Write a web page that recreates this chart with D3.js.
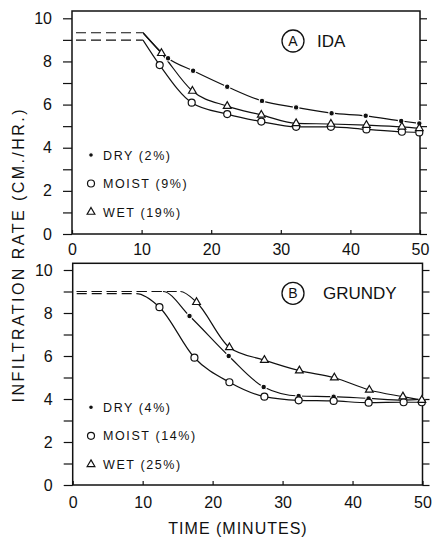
<!DOCTYPE html>
<html>
<head>
<meta charset="utf-8">
<script src="https://cdn.jsdelivr.net/npm/d3@7"></script>
<style>
  body { margin: 0; background: #fff; }
  svg text { font-family: "Liberation Sans", Arial, sans-serif; fill: #111; }
</style>
</head>
<body>
<div id="chart"></div>
<script>
const width = 434
const height = 537

// time (minutes) and infiltration rate (cm/hr)
const xTicks = [0, 10, 20, 30, 40, 50]

// A - Ida
const idaDashY = [9.33, 8.99]
const idaDashEnd = 10.2
const idaDryX = [13.8, 17.4, 22.3, 27.3, 32.2, 37.3, 42.2, 47.3, 49.9]
const idaDryY = [8.15, 7.57, 6.83, 6.17, 5.87, 5.6, 5.48, 5.24, 5.13]
const idaMoistX = [12.6, 17.2, 22.3, 27.2, 32.2, 37.2, 42.3, 47.4, 49.9]
const idaMoistY = [7.83, 6.09, 5.56, 5.21, 4.97, 4.97, 4.85, 4.74, 4.71]
const idaWetX = [12.85, 17.3, 22.3, 27.2, 32.2, 37.2, 42.3, 47.4, 49.9]
const idaWetY = [8.38, 6.63, 5.93, 5.52, 5.13, 5.1, 5.05, 4.97, 4.9]
const idaLegend = ['DRY (2%)', 'MOIST (9%)', 'WET (19%)']

// B - Grundy
const grundyDashY = [9.0, 8.9, 9.0]      // dry, moist, wet
const grundyDashEnd = [12.9, 9.1, 15.4]  // dry, moist, wet
const grundyDryX = [16.7, 22.3, 27.3, 32.3, 37.3, 42.3, 47.3, 49.9]
const grundyDryY = [7.86, 6.0, 4.56, 4.14, 4.11, 4.03, 3.95, 3.99]
const grundyMoistX = [12.4, 17.4, 22.4, 27.4, 32.3, 37.3, 42.3, 47.3, 49.9]
const grundyMoistY = [8.27, 5.92, 4.78, 4.11, 3.94, 3.91, 3.83, 3.85, 3.85]
const grundyWetX = [17.7, 22.4, 27.4, 32.4, 37.4, 42.4, 47.2, 49.9]
const grundyWetY = [8.5, 6.4, 5.81, 5.32, 4.99, 4.42, 4.11, 3.95]
const grundyLegend = ['DRY (4%)', 'MOIST (14%)', 'WET (25%)']

const zip = (xs, ys) => xs.map((x, i) => ({x, y: ys[i]}))

const panels = [
  {
    letter: 'A', name: 'IDA', nameX: 317, top: 11, y0: 234, y10: 18.3, xr: [72, 420], labelPad: 10,
    legend: idaLegend,
    dashes: idaDashY.map(y => ({y, from: 0, to: idaDashEnd})),
    series: [
      {sym: 'dry', pts: zip(idaDryX, idaDryY), start: {x: idaDashEnd, y: idaDashY[0]}},
      {sym: 'moist', pts: zip(idaMoistX, idaMoistY), start: {x: idaDashEnd, y: idaDashY[1]}},
      {sym: 'wet', pts: zip(idaWetX, idaWetY), start: {x: idaDashEnd, y: idaDashY[0]}}
    ]
  },
  {
    letter: 'B', name: 'GRUNDY', nameX: 323, top: 263.3, y0: 485, y10: 270, xr: [72.7, 422.5], labelPad: 12,
    legend: grundyLegend,
    dashes: grundyDashY.map((y, i) => ({y, from: 0, to: grundyDashEnd[i]})),
    series: [
      {sym: 'dry', pts: zip(grundyDryX, grundyDryY), start: {x: grundyDashEnd[0], y: grundyDashY[0]}, leadIn: true},
      {sym: 'moist', pts: zip(grundyMoistX, grundyMoistY), start: {x: grundyDashEnd[1], y: grundyDashY[1]}, leadIn: true},
      {sym: 'wet', pts: zip(grundyWetX, grundyWetY), start: {x: grundyDashEnd[2], y: grundyDashY[2]}, leadIn: true}
    ]
  }
]

const svg = d3.select('#chart').append('svg')
  .attr('width', width)
  .attr('height', height)

const ink = '#111'

function marker (g, sym, big) {
  if (sym === 'dry') {
    g.append('circle').attr('r', big ? 2.8 : 2.4)
      .attr('fill', ink).attr('stroke', '#fff').attr('stroke-width', 1.2)
  } else if (sym === 'moist') {
    g.append('circle').attr('r', 3.5)
      .attr('fill', '#fff').attr('stroke', ink).attr('stroke-width', 1.2)
  } else {
    g.append('path').attr('d', d3.symbol(d3.symbolTriangle, 26)())
      .attr('fill', '#fff').attr('stroke', ink).attr('stroke-width', 1.2)
  }
}

panels.forEach((p, pi) => {
  const x = d3.scaleLinear().domain([0, 50]).range(p.xr)
  const y = d3.scaleLinear().domain([0, 10]).range([p.y0, p.y10])
  const g = svg.append('g').attr('class', 'panel')

  // frame
  g.append('rect')
    .attr('x', p.xr[0]).attr('y', p.top)
    .attr('width', p.xr[1] - p.xr[0]).attr('height', p.y0 - p.top)
    .attr('fill', 'none').attr('stroke', ink).attr('stroke-width', 1.5)

  // left axis
  const left = g.append('g')
    .attr('transform', `translate(${p.xr[0]},0)`)
    .call(d3.axisLeft(y).ticks(10).tickSize(9).tickPadding(11)
      .tickFormat(d => d % 2 === 0 ? d : ''))
  left.select('.domain').remove()
  left.selectAll('line').attr('stroke', ink).attr('stroke-width', 1.2)
  left.selectAll('text').attr('font-size', 16).attr('fill', ink)

  // right axis
  const right = g.append('g')
    .attr('transform', `translate(${p.xr[1]},0)`)
    .call(d3.axisRight(y).ticks(10).tickSize(7).tickFormat(''))
  right.select('.domain').remove()
  right.selectAll('line').attr('stroke', ink).attr('stroke-width', 1.2)

  // bottom axis
  const bottom = g.append('g')
    .attr('transform', `translate(0,${p.y0})`)
    .call(d3.axisBottom(x).tickValues(xTicks).tickSizeInner(-4).tickSizeOuter(0).tickPadding(p.labelPad))
  bottom.select('.domain').remove()
  bottom.selectAll('line').attr('stroke', ink).attr('stroke-width', 1.2)
  bottom.selectAll('text').attr('font-size', 16).attr('fill', ink)

  // dashed plateau lines
  g.selectAll('.dash').data(p.dashes).enter().append('line')
    .attr('class', 'dash')
    .attr('x1', d => x(d.from) + 4).attr('x2', d => x(d.to))
    .attr('y1', d => y(d.y)).attr('y2', d => y(d.y))
    .attr('stroke', ink).attr('stroke-width', 1.2)
    .attr('stroke-dasharray', '10,5')

  // curves
  const line = d3.line().x(d => x(d.x)).y(d => y(d.y)).curve(d3.curveMonotoneX)
  p.series.forEach((s, si) => {
    const pts = [s.start].concat(s.pts)
    if (s.leadIn) pts.unshift({x: 0, y: s.start.y})
    const clipId = `clip-${pi}-${si}`
    g.append('clipPath').attr('id', clipId)
      .append('rect')
      .attr('x', x(s.start.x)).attr('y', p.top)
      .attr('width', p.xr[1] - x(s.start.x) + 4).attr('height', p.y0 - p.top)
    g.append('path')
      .datum(pts)
      .attr('d', line)
      .attr('clip-path', `url(#${clipId})`)
      .attr('fill', 'none').attr('stroke', ink).attr('stroke-width', 1.2)
  })

  // markers
  p.series.forEach(s => {
    g.selectAll(null).data(s.pts).enter().append('g')
      .attr('transform', d => `translate(${x(d.x)},${y(d.y)})`)
      .each(function () { marker(d3.select(this), s.sym, true) })
  })

  // legend
  const syms = ['dry', 'moist', 'wet']
  const leg = g.selectAll('.leg').data(p.legend).enter().append('g')
    .attr('class', 'leg')
    .attr('transform', (d, i) => `translate(91,${p.top + 144 + i * 28.5})`)
  leg.each(function (d, i) { marker(d3.select(this), syms[i], false) })
  leg.append('text')
    .attr('x', 12).attr('dy', '0.36em')
    .attr('font-size', 12.5).attr('letter-spacing', 1.6)
    .text(d => d)

  // panel label
  const lab = g.append('g').attr('transform', `translate(293,${p.top + 30})`)
  lab.append('circle').attr('r', 11).attr('fill', 'none').attr('stroke', ink).attr('stroke-width', 1.3)
  lab.append('text').attr('text-anchor', 'middle').attr('dy', '0.36em')
    .attr('font-size', 14).text(p.letter)
  g.append('text')
    .attr('x', p.nameX).attr('y', p.top + 30).attr('dy', '0.36em')
    .attr('font-size', 17).text(p.name)
})

// axis titles
svg.append('text')
  .attr('transform', 'translate(18,256) rotate(-90)')
  .attr('text-anchor', 'middle').attr('dy', '0.36em')
  .attr('font-size', 16)
  .attr('textLength', 293).attr('lengthAdjust', 'spacing')
  .text('INFILTRATION RATE (CM./HR.)')

svg.append('text')
  .attr('x', 238).attr('y', 528).attr('dy', '0.36em')
  .attr('text-anchor', 'middle')
  .attr('font-size', 16).attr('letter-spacing', 1)
  .text('TIME (MINUTES)')
</script>
</body>
</html>
